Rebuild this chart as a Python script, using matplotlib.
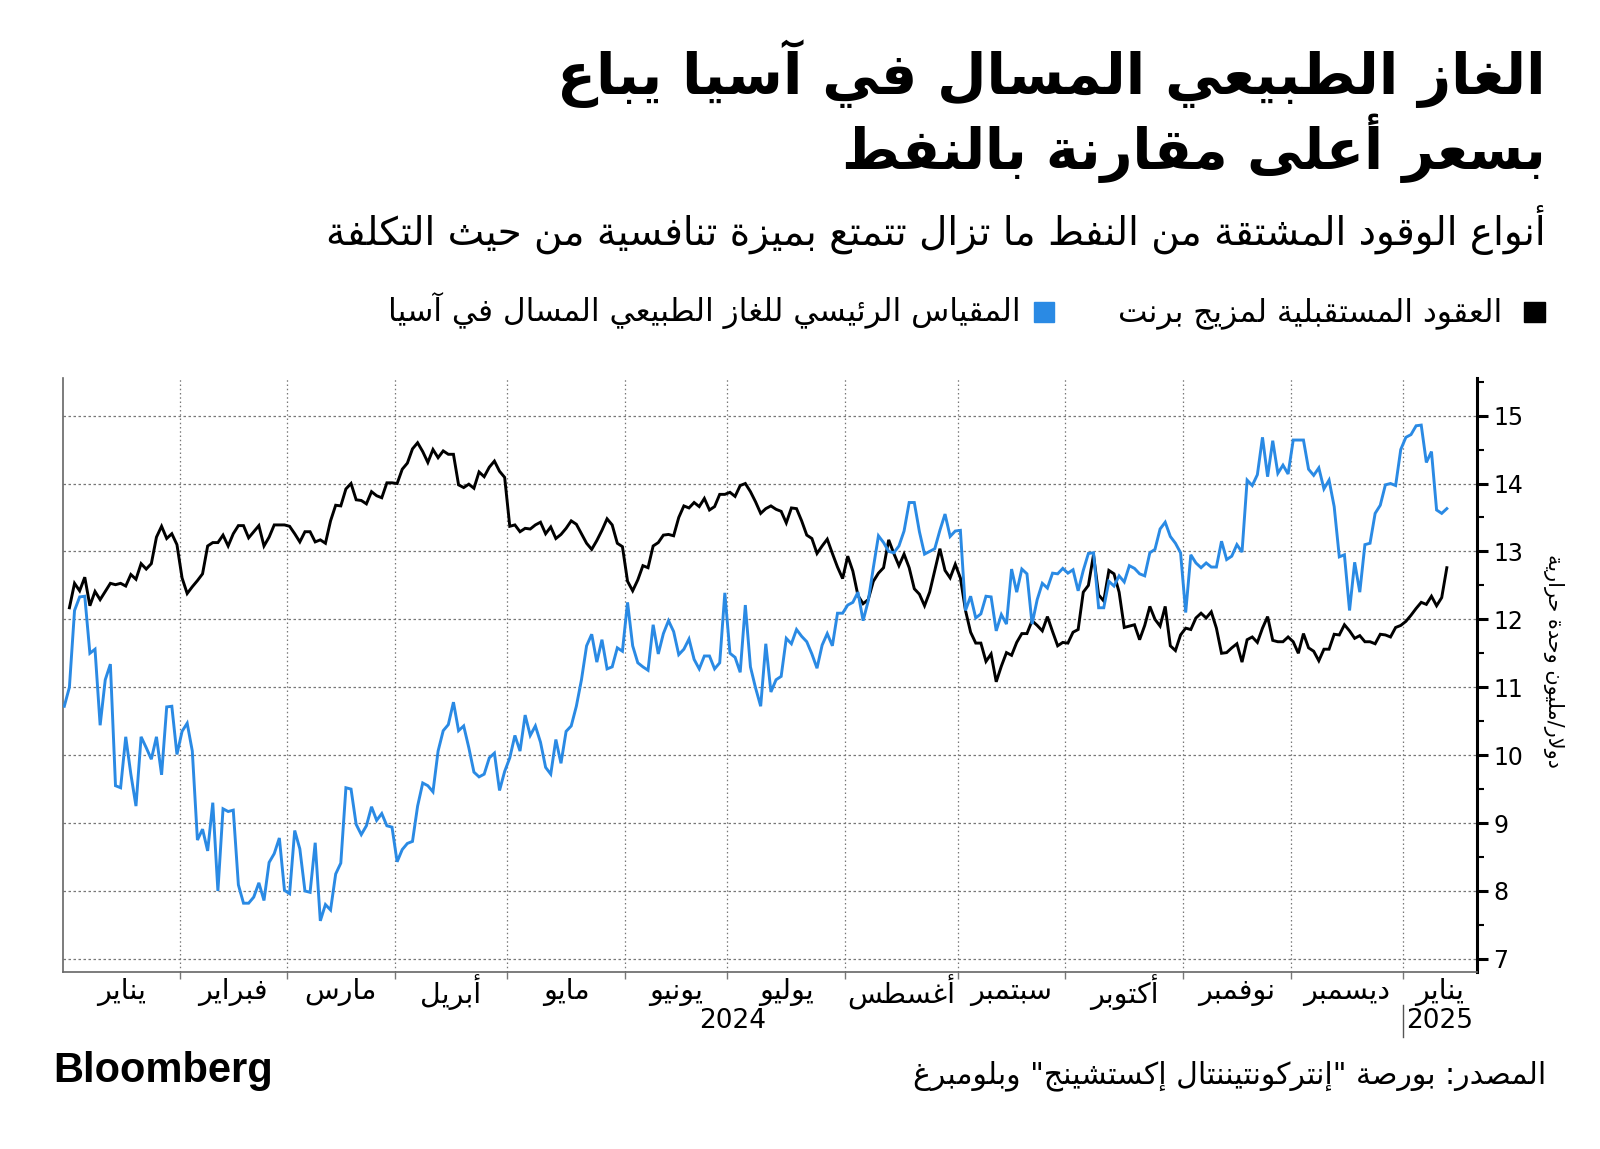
import re
import numpy as np
import pandas as pd
import matplotlib
matplotlib.use("Agg")
import matplotlib.pyplot as plt
from matplotlib.patches import Rectangle
from matplotlib.lines import Line2D
from matplotlib.ticker import FixedLocator, NullFormatter
import matplotlib.transforms as mtransforms

# ---------------- data ----------------
start_date = "2024-01-01"
n_days = 271

brent = [np.nan, 12.17, 12.53, 12.42, 12.62, 12.20, 12.41, 12.29, 12.41, 12.53,
         12.51, 12.53, 12.49, 12.66, 12.59, 12.82, 12.74, 12.82, 13.21, 13.37,
         13.19, 13.26, 13.10, 12.61, 12.38, 12.48, 12.57, 12.67, 13.08, 13.13,
         13.13, 13.24, 13.08, 13.26, 13.38, 13.38, 13.20, 13.29, 13.38, 13.08,
         13.21, 13.39, 13.39, 13.39, 13.37, 13.26, 13.14, 13.29, 13.29, 13.14,
         13.17, 13.12, 13.45, 13.68, 13.67, 13.92, 14.00, 13.76, 13.75, 13.70,
         13.88, 13.82, 13.79, 14.01, 14.01, 14.00, 14.21, 14.30, 14.51, 14.60,
         14.47, 14.31, 14.50, 14.38, 14.48, 14.43, 14.43, 13.98, 13.94, 13.99,
         13.93, 14.17, 14.10, 14.24, 14.33, 14.18, 14.09, 13.37, 13.39, 13.29,
         13.34, 13.33, 13.39, 13.43, 13.26, 13.36, 13.19, 13.25, 13.34, 13.45,
         13.40, 13.26, 13.12, 13.03, 13.16, 13.31, 13.48, 13.39, 13.12, 13.07,
         12.56, 12.42, 12.58, 12.79, 12.76, 13.08, 13.13, 13.24, 13.25, 13.23,
         13.50, 13.67, 13.64, 13.72, 13.66, 13.78, 13.61, 13.66, 13.84, 13.84,
         13.87, 13.81, 13.97, 14.00, 13.88, 13.73, 13.56, 13.63, 13.67, 13.62,
         13.59, 13.42, 13.64, 13.63, 13.45, 13.24, 13.19, 12.97, 13.08, 13.18,
         12.97, 12.77, 12.60, 12.93, 12.71, 12.35, 12.23, 12.29, 12.56, 12.68,
         12.76, 13.17, 12.97, 12.79, 12.96, 12.76, 12.45, 12.37, 12.20, 12.40,
         12.72, 13.04, 12.72, 12.61, 12.81, 12.61, 12.13, 11.81, 11.65, 11.65,
         11.38, 11.49, 11.08, 11.31, 11.51, 11.47, 11.66, 11.79, 11.79, 11.98,
         11.91, 11.83, 12.04, 11.82, 11.61, 11.66, 11.65, 11.81, 11.85, 12.40,
         12.50, 12.95, 12.36, 12.27, 12.72, 12.67, 12.40, 11.88, 11.90, 11.92,
         11.70, 11.91, 12.19, 12.00, 11.90, 12.19, 11.61, 11.54, 11.77, 11.87,
         11.85, 12.02, 12.09, 12.02, 12.11, 11.87, 11.50, 11.51, 11.58, 11.64,
         11.37, 11.70, 11.74, 11.66, 11.87, 12.04, 11.69, 11.67, 11.67, 11.74,
         11.67, 11.50, 11.79, 11.58, 11.53, 11.39, 11.56, 11.56, 11.78, 11.77,
         11.92, 11.83, 11.72, 11.76, 11.67, 11.67, 11.64, 11.78, 11.77, 11.74,
         11.88, 11.91, 11.97, 12.06, 12.16, 12.25, 12.22, 12.34, 12.20, 12.32,
         12.76]

jkm = [10.72, 11.00, 12.13, 12.33, 12.34, 11.50, 11.56, 10.44, 11.11, 11.34,
       9.55, 9.52, 10.27, 9.72, 9.25, 10.27, 10.11, 9.94, 10.27, 9.71,
       10.71, 10.72, 10.01, 10.35, 10.47, 10.06, 8.75, 8.91, 8.59, 9.30,
       8.00, 9.21, 9.17, 9.19, 8.09, 7.82, 7.82, 7.91, 8.12, 7.86,
       8.42, 8.55, 8.78, 8.01, 7.96, 8.89, 8.62, 8.00, 7.98, 8.71,
       7.56, 7.80, 7.72, 8.25, 8.41, 9.52, 9.50, 8.98, 8.83, 8.96,
       9.24, 9.04, 9.14, 8.96, 8.94, 8.43, 8.61, 8.70, 8.73, 9.25,
       9.59, 9.55, 9.46, 10.06, 10.36, 10.45, 10.78, 10.36, 10.43, 10.11,
       9.75, 9.68, 9.72, 9.96, 10.03, 9.48, 9.76, 9.96, 10.29, 10.06,
       10.59, 10.29, 10.43, 10.19, 9.82, 9.72, 10.23, 9.88, 10.35, 10.43,
       10.72, 11.11, 11.61, 11.78, 11.37, 11.70, 11.27, 11.30, 11.58, 11.53,
       12.25, 11.61, 11.36, 11.30, 11.25, 11.92, 11.49, 11.79, 11.98, 11.82,
       11.48, 11.56, 11.71, 11.41, 11.27, 11.46, 11.46, 11.27, 11.36, 12.39,
       11.50, 11.44, 11.22, 12.21, 11.30, 10.99, 10.72, 11.64, 10.93, 11.11,
       11.16, 11.72, 11.64, 11.85, 11.75, 11.67, 11.49, 11.28, 11.62, 11.79,
       11.61, 12.09, 12.09, 12.21, 12.25, 12.40, 11.98, 12.27, 12.76, 13.23,
       13.13, 13.00, 12.98, 13.08, 13.30, 13.72, 13.72, 13.29, 12.96, 13.00,
       13.04, 13.31, 13.55, 13.22, 13.30, 13.31, 12.13, 12.34, 12.02, 12.08,
       12.34, 12.33, 11.83, 12.07, 11.93, 12.74, 12.40, 12.74, 12.67, 11.93,
       12.29, 12.53, 12.46, 12.68, 12.67, 12.75, 12.68, 12.73, 12.42, 12.72,
       12.97, 12.98, 12.17, 12.17, 12.56, 12.49, 12.64, 12.55, 12.79, 12.75,
       12.67, 12.64, 12.98, 13.03, 13.33, 13.43, 13.22, 13.12, 12.98, 12.10,
       12.95, 12.83, 12.76, 12.83, 12.77, 12.77, 13.15, 12.88, 12.93, 13.10,
       12.99, 14.05, 13.97, 14.13, 14.68, 14.10, 14.63, 14.15, 14.27, 14.14,
       14.64, 14.64, 14.64, 14.21, 14.12, 14.23, 13.92, 14.05, 13.66, 12.92,
       12.95, 12.13, 12.84, 12.40, 13.10, 13.12, 13.56, 13.68, 13.98, 14.00,
       13.97, 14.50, 14.68, 14.72, 14.85, 14.86, 14.31, 14.47, 13.61, 13.56,
       13.63]

month_labels = ["يناير", "فبراير", "مارس", "أبريل", "مايو", "يونيو", "يوليو",
                "أغسطس", "سبتمبر", "أكتوبر", "نوفمبر", "ديسمبر", "يناير"]
year_labels = ["2024", "2025"]
y_ticks = [7, 8, 9, 10, 11, 12, 13, 14, 15]

title_lines = ["الغاز الطبيعي المسال في آسيا يباع", "بسعر أعلى مقارنة بالنفط"]
subtitle = "أنواع الوقود المشتقة من النفط ما تزال تتمتع بميزة تنافسية من حيث التكلفة"
legend_brent = "العقود المستقبلية لمزيج برنت"
legend_jkm = "المقياس الرئيسي للغاز الطبيعي المسال في آسيا"
y_label = "دولار/مليون وحدة حرارية"
source = "المصدر: بورصة \"إنتركونتيننتال إكستشينج\" وبلومبرغ"

BLUE = "#2a8ae4"

# ---------------- Arabic shaping (presentation forms) ----------------
DUAL = {0x0626: 0xFE89, 0x0628: 0xFE8F, 0x062A: 0xFE95, 0x062B: 0xFE99, 0x062C: 0xFE9D,
        0x062D: 0xFEA1, 0x062E: 0xFEA5, 0x0633: 0xFEB1, 0x0634: 0xFEB5, 0x0635: 0xFEB9,
        0x0636: 0xFEBD, 0x0637: 0xFEC1, 0x0638: 0xFEC5, 0x0639: 0xFEC9, 0x063A: 0xFECD,
        0x0641: 0xFED1, 0x0642: 0xFED5, 0x0643: 0xFED9, 0x0644: 0xFEDD, 0x0645: 0xFEE1,
        0x0646: 0xFEE5, 0x0647: 0xFEE9, 0x064A: 0xFEF1}
RIGHT = {0x0622: 0xFE81, 0x0623: 0xFE83, 0x0624: 0xFE85, 0x0625: 0xFE87, 0x0627: 0xFE8D,
         0x0629: 0xFE93, 0x062F: 0xFEA9, 0x0630: 0xFEAB, 0x0631: 0xFEAD, 0x0632: 0xFEAF,
         0x0648: 0xFEED, 0x0649: 0xFEEF}
NONE = {0x0621: 0xFE80}
LAMALEF = {0x0622: 0xFEF5, 0x0623: 0xFEF7, 0x0625: 0xFEF9, 0x0627: 0xFEFB}


def _jt(c):
    if c is None:
        return None
    o = ord(c)
    if o in DUAL:
        return "D"
    if o in RIGHT:
        return "R"
    if o in NONE:
        return "U"
    return None


def shape(s):
    out = []
    i, n = 0, len(s)
    while i < n:
        c = s[i]
        t = _jt(c)
        if t is None:
            out.append(c)
            i += 1
            continue
        prev = s[i - 1] if i > 0 else None
        pc = _jt(prev) == "D"
        if ord(c) == 0x0644 and i + 1 < n and ord(s[i + 1]) in LAMALEF:
            base = LAMALEF[ord(s[i + 1])]
            out.append(chr(base + 1 if pc else base))
            i += 2
            continue
        nxt = s[i + 1] if i + 1 < n else None
        nc = t == "D" and _jt(nxt) in ("D", "R")
        if t == "U":
            out.append(chr(NONE[ord(c)]))
        elif t == "R":
            base = RIGHT[ord(c)]
            out.append(chr(base + 1 if pc else base))
        else:
            base = DUAL[ord(c)]
            if pc and nc:
                out.append(chr(base + 3))
            elif pc:
                out.append(chr(base + 1))
            elif nc:
                out.append(chr(base + 2))
            else:
                out.append(chr(base))
        i += 1
    return "".join(out)


def ar(s):
    tokens = re.findall(r"[0-9A-Za-z]+|.", shape(s))
    return "".join(reversed(tokens))


# ---------------- figure ----------------
plt.rcParams["font.family"] = ["DejaVu Sans"]
fig = plt.figure(figsize=(16, 11.49), dpi=100)
W, H = 1568.0, 1126.0
def fx(x): return x / W
def fy(y): return 1 - y / H

ax = fig.add_axes([fx(62), fy(953), fx(1447) - fx(62), fy(370) - fy(953)])

dates = pd.bdate_range(start_date, periods=n_days)
x = np.arange(len(dates))

ax.plot(x, brent, color="black", lw=2.1, solid_joinstyle="miter", zorder=3)
ax.plot(x, jkm, color=BLUE, lw=2.1, solid_joinstyle="miter", zorder=4)

ax.set_xlim(-0.2, 275.8)
ax.set_ylim(6.8, 15.56)

# month boundaries from the business-day calendar
months = dates.to_period("M")
bounds = [i - 0.5 for i in range(1, len(dates)) if months[i] != months[i - 1]]
edges = [ax.get_xlim()[0]] + bounds + [ax.get_xlim()[1]]
centers = [(edges[k] + edges[k + 1]) / 2 for k in range(len(edges) - 1)]

ax.xaxis.set_major_locator(FixedLocator(bounds))
ax.xaxis.set_major_formatter(NullFormatter())
ax.tick_params(axis="x", which="major", length=5, width=1, color="#777777", direction="out")
ax.grid(axis="x", which="major", color="#777777", linestyle=(0, (1.2, 2.2)), lw=0.9)

trans = mtransforms.blended_transform_factory(ax.transData, ax.transAxes)
for c, lab in zip(centers, month_labels):
    ax.text(c, -0.033, ar(lab), transform=trans, ha="center", va="center",
            fontsize=20.5, color="black")
ax.text(np.mean(centers[:12]), -0.082, year_labels[0], transform=trans, ha="center",
        va="center", fontsize=19)
ax.text(centers[12], -0.082, year_labels[1], transform=trans, ha="center",
        va="center", fontsize=19)
ax.add_line(Line2D([bounds[-1], bounds[-1]], [-0.055, -0.108], transform=trans,
                   color="#555555", lw=1, clip_on=False))

# y axis on right
ax.yaxis.tick_right()
ax.set_yticks(y_ticks)
ax.yaxis.set_minor_locator(FixedLocator([v + 0.5 for v in y_ticks[:-1]] + [6.5, 15.5]))
ax.tick_params(axis="y", which="major", length=8, width=2.2, color="black",
               labelsize=17, pad=4, direction="out")
ax.tick_params(axis="y", which="minor", length=5, width=1.5, color="black", direction="out")
ax.grid(axis="y", which="major", color="#777777", linestyle=(0, (2, 2)), lw=0.9)

ax.spines["top"].set_visible(False)
ax.spines["right"].set_linewidth(2.2)
ax.spines["right"].set_color("black")
ax.spines["left"].set_color("#666666")
ax.spines["left"].set_linewidth(1.2)
ax.spines["bottom"].set_color("#666666")
ax.spines["bottom"].set_linewidth(1.2)

fig.text(fx(1522), fy(648), ar(y_label), rotation=270, ha="center", va="center", fontsize=15)

# titles
fig.text(fx(1515), fy(92), ar(title_lines[0]), ha="right", va="baseline",
         fontsize=41, fontweight="bold")
fig.text(fx(1515), fy(166), ar(title_lines[1]), ha="right", va="baseline",
         fontsize=40, fontweight="bold")
fig.text(fx(1515), fy(240), ar(subtitle), ha="right", va="baseline", fontsize=28)

# legend
fig.patches.append(Rectangle((fx(1494), fy(316)), fx(20), fy(296) - fy(316),
                             transform=fig.transFigure, color="black"))
fig.text(fx(1472), fy(315), ar(legend_brent), ha="right", va="baseline", fontsize=22.5)
fig.patches.append(Rectangle((fx(1013), fy(316)), fx(20), fy(296) - fy(316),
                             transform=fig.transFigure, color=BLUE))
fig.text(fx(1000), fy(315), ar(legend_jkm), ha="right", va="baseline", fontsize=22.5)

# footer
fig.text(fx(52), fy(1050), "Bloomberg", ha="left", va="center", fontsize=30,
         fontweight="bold", family=["Liberation Sans", "DejaVu Sans"])
fig.text(fx(1515), fy(1062), ar(source), ha="right", va="baseline", fontsize=21.5)

fig.savefig("out.png", dpi=100, facecolor="white")
